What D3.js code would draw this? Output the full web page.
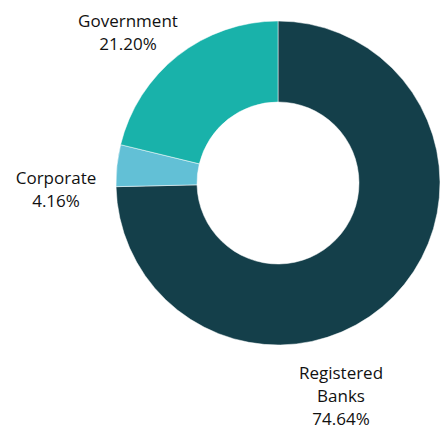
<!DOCTYPE html>
<html>
<head>
<meta charset="utf-8">
<script src="https://cdn.jsdelivr.net/npm/d3@7"></script>
<style>
  body { margin: 0; background: #fff; }
  text { font-family: "Open Sans", sans-serif; font-size: 17px; fill: #111; }
</style>
</head>
<body>
<script>
const categories = ["Registered Banks", "Corporate", "Government"];
const shares = [74.64, 4.16, 21.20];
const labelLines = [["Registered", "Banks"], ["Corporate"], ["Government"]];
const colors = ["#143f4a", "#62c0d6", "#19b2aa"];

const width = 441, height = 427;
const cx = 278, cy = 183;
const outerR = 162, innerR = 81;

// label anchor (x centre, baseline of first line) per slice
const labelAt = [[341, 379], [56, 184], [128, 27]];
const lineH = 23;

const data = categories.map((c, i) => ({ name: c, value: shares[i], lines: labelLines[i], i: i }));

const svg = d3.select("body").append("svg")
    .attr("width", width)
    .attr("height", height);

const pie = d3.pie().value(d => d.value).sort(null);
const arc = d3.arc().innerRadius(innerR).outerRadius(outerR);

const g = svg.append("g").attr("transform", `translate(${cx},${cy})`);

g.selectAll("path")
    .data(pie(data))
    .enter()
    .append("path")
    .attr("d", arc)
    .style("fill", d => colors[d.data.i])
    .style("stroke", "#fff")
    .style("stroke-width", 0.5);

const labels = svg.selectAll("text.lbl")
    .data(data)
    .enter()
    .append("text")
    .attr("class", "lbl")
    .attr("text-anchor", "middle")
    .attr("x", d => labelAt[d.i][0])
    .attr("y", d => labelAt[d.i][1]);

labels.each(function(d) {
    const t = d3.select(this);
    const rows = d.lines.concat([d.value.toFixed(2) + "%"]);
    rows.forEach((r, k) => {
        t.append("tspan")
            .attr("x", labelAt[d.i][0])
            .attr("dy", k === 0 ? 0 : lineH)
            .text(r);
    });
});
</script>
</body>
</html>
